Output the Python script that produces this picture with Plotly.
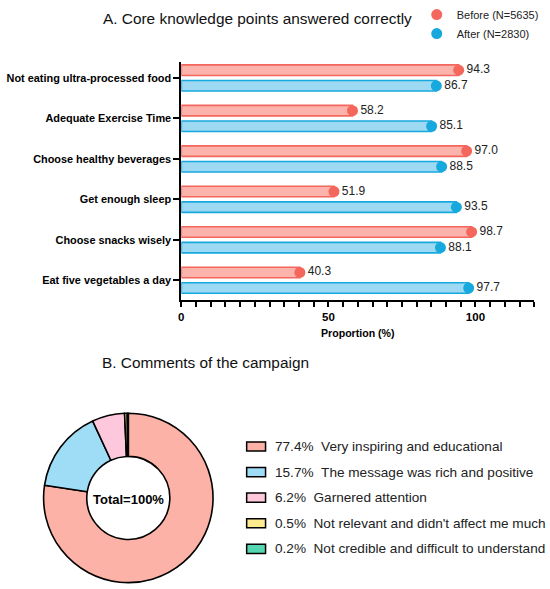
import plotly.graph_objects as go

# ---------------- data ----------------
categories = [
    "Not eating ultra-processed food",
    "Adequate Exercise Time",
    "Choose healthy beverages",
    "Get enough sleep",
    "Choose snacks wisely",
    "Eat five vegetables a day",
]
before_vals = [94.3, 58.2, 97.0, 51.9, 98.7, 40.3]
after_vals = [86.7, 85.1, 88.5, 93.5, 88.1, 97.7]
series_names = ["Before (N=5635)", "After (N=2830)"]

pie_labels = [
    "Very inspiring and educational",
    "The message was rich and positive",
    "Garnered attention",
    "Not relevant and didn't affect me much",
    "Not credible and difficult to understand",
]
pie_values = [77.4, 15.7, 6.2, 0.5, 0.2]

# ---------------- styles ----------------
W, H = 550, 589
FONT = "Liberation Sans, Arial, Helvetica, sans-serif"
red_dark, red_light = "#f4675c", "#fbb3ac"
blue_dark, blue_light = "#17a9dd", "#9dd9f2"
pie_colors = ["#fcb2a6", "#9fdcf5", "#fec8dc", "#fdeb8f", "#55d6b2"]

def px_x(p):
    return p / W

def px_y(p):
    return 1 - p / H

pos = list(range(len(categories)))
off = 0.193
bw = 0.26

fig = go.Figure()
for vals, name, dark, light, sgn in [
    (before_vals, series_names[0], red_dark, red_light, -1),
    (after_vals, series_names[1], blue_dark, blue_light, 1),
]:
    ys = [p + sgn * off for p in pos]
    fig.add_trace(go.Bar(
        x=vals, y=ys, orientation="h", width=bw,
        marker=dict(color=light, line=dict(color=dark, width=1.6)),
        showlegend=False, hoverinfo="skip",
    ))
    fig.add_trace(go.Scatter(
        x=vals, y=ys, mode="markers+text", name=name,
        marker=dict(color=dark, size=11, symbol="circle"),
        text=[f"{v:.1f}" for v in vals], textposition="middle right",
        textfont=dict(family=FONT, size=12, color="#222222"),
        cliponaxis=False,
    ))

# donut
fig.add_trace(go.Pie(
    values=pie_values, labels=pie_labels, hole=0.49, sort=False,
    direction="clockwise", rotation=0, textinfo="none",
    marker=dict(colors=pie_colors, line=dict(color="black", width=1.6)),
    domain=dict(x=[px_x(126 - 85.3), px_x(126 + 85.3)],
                y=[px_y(582.6), px_y(411.7)]),
    showlegend=False,
))

axis_common = dict(showgrid=False, zeroline=False, showline=True,
                   linecolor="black", linewidth=2, ticks="outside",
                   tickcolor="black", tickwidth=1.5)

fig.update_layout(
    width=W, height=H, margin=dict(l=0, r=0, t=0, b=0),
    paper_bgcolor="white", plot_bgcolor="white",
    font=dict(family=FONT, color="black"),
    barmode="overlay",
    xaxis=dict(
        domain=[px_x(179.3), px_x(534.2)], range=[0, 120],
        tick0=0, dtick=50, ticklen=5,
        minor=dict(dtick=5, ticks="outside", ticklen=5, tickwidth=1.5, tickcolor="black"),
        tickfont=dict(size=11.5, weight="bold", family=FONT),
        title=dict(text="Proportion (%)", standoff=7,
                   font=dict(size=10.6, weight="bold", family=FONT)),
        anchor="y", **axis_common,
    ),
    yaxis=dict(
        domain=[px_y(298), px_y(57.3)], range=[5.5, -0.4],
        tickvals=pos, ticktext=categories, ticklen=6,
        tickfont=dict(size=10.9, weight="bold", family=FONT),
        anchor="x", **axis_common,
    ),
    legend=dict(
        x=px_x(416), y=px_y(-5), xanchor="left", yanchor="top",
        font=dict(size=11, family=FONT, color="#222222"),
        bgcolor="rgba(0,0,0,0)", itemwidth=30,
    ),
    showlegend=True,
)

annotations = [
    dict(text="A. Core knowledge points answered correctly", x=px_x(256), y=px_y(14),
         xref="paper", yref="paper", xanchor="center", yanchor="middle", showarrow=False,
         font=dict(size=15.4, family=FONT, color="#111111")),
    dict(text="B. Comments of the campaign", x=px_x(98), y=px_y(361),
         xref="paper", yref="paper", xanchor="left", yanchor="middle", showarrow=False,
         font=dict(size=15.4, family=FONT, color="#111111")),
    dict(text=f"Total={sum(pie_values):.0f}%", x=px_x(126), y=px_y(498.5),
         xref="paper", yref="paper", xanchor="center", yanchor="middle", showarrow=False,
         font=dict(size=13, family=FONT, weight="bold", color="black")),
]

# manual pie legend built from the data lists
shapes = []
row0, step = 445.3, 25.8
for i, (lab, val, col) in enumerate(zip(pie_labels, pie_values, pie_colors)):
    yc = row0 + i * step
    shapes.append(dict(type="rect", xref="paper", yref="paper",
                       x0=px_x(245), x1=px_x(264), y0=px_y(yc + 4.6), y1=px_y(yc - 4.6),
                       fillcolor=col, line=dict(color="black", width=1.5)))
    annotations.append(dict(text=f"{val:.1f}%\u00a0\u00a0{lab}", x=px_x(271), y=px_y(yc),
                            xref="paper", yref="paper", xanchor="left", yanchor="middle",
                            showarrow=False,
                            font=dict(size=13.6, family=FONT, color="#222222")))

fig.update_layout(annotations=annotations, shapes=shapes)
fig.write_html(
    "out.html",
    config={"displayModeBar": False},
    post_script="document.body.style.margin='0';document.body.style.overflow='hidden';",
)
